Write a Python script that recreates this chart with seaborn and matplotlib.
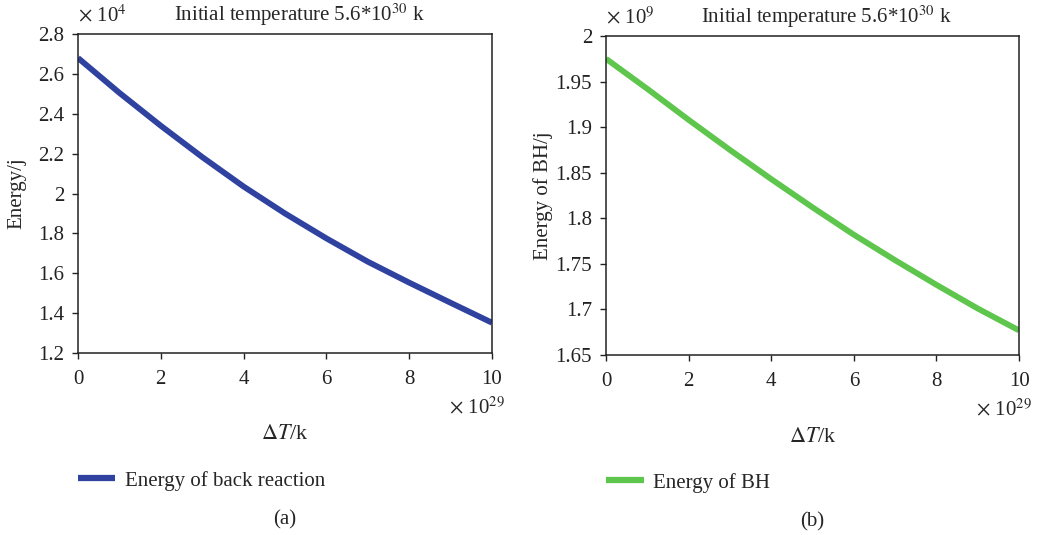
import pandas as pd
import matplotlib
matplotlib.use("Agg")
import matplotlib.pyplot as plt
import seaborn as sns

# --- data (x in units of 1e29 k) ---
delta_t = [0, 1, 2, 3, 4, 5, 6, 7, 8, 9, 10]
back_reaction = [2.68, 2.505, 2.34, 2.183, 2.035, 1.90, 1.775, 1.658, 1.553, 1.452, 1.352]  # x 1e4 j
bh_energy = [1.975, 1.942, 1.908, 1.875, 1.843, 1.812, 1.782, 1.754, 1.727, 1.701, 1.677]  # x 1e9 j

x_ticks = [0, 2, 4, 6, 8, 10]
y_ticks_a = [1.2, 1.4, 1.6, 1.8, 2.0, 2.2, 2.4, 2.6, 2.8]
y_labels_a = ["1.2", "1.4", "1.6", "1.8", "2", "2.2", "2.4", "2.6", "2.8"]
y_ticks_b = [1.65, 1.7, 1.75, 1.8, 1.85, 1.9, 1.95, 2.0]
y_labels_b = ["1.65", "1.7", "1.75", "1.8", "1.85", "1.9", "1.95", "2"]

df = pd.DataFrame({"dT": delta_t, "back": back_reaction, "bh": bh_energy})

sns.set_style("ticks")
plt.rcParams["font.family"] = ["Liberation Serif", "DejaVu Serif"]
plt.rcParams["mathtext.fontset"] = "stix"
plt.rcParams["font.size"] = 15

fig = plt.figure(figsize=(10.37, 5.35), dpi=100)
ax_a = fig.add_axes([0.0752, 0.3402, 0.3992, 0.5962])
ax_b = fig.add_axes([0.5844, 0.3364, 0.3983, 0.5963])

panels = [
    (ax_a, "back", "#2f42a0", "Energy of back reaction", "Energy/j", "4",
     (1.2, 2.8), y_ticks_a, y_labels_a, "(a)", -0.147),
    (ax_b, "bh", "#5ec64c", "Energy of BH", "Energy of BH/j", "9",
     (1.65, 2.0), y_ticks_b, y_labels_b, "(b)", -0.153),
]

for ax, col, color, label, ylab, exp, ylim, yt, ytl, tag, ylx in panels:
    sns.lineplot(data=df, x="dT", y=col, ax=ax, color=color, lw=4.2, label=label)
    ax.lines[0].set_solid_capstyle("butt")
    ax.set_xlim(0, 10)
    ax.set_ylim(*ylim)
    ax.set_xticks(x_ticks)
    ax.set_yticks(yt)
    ax.set_yticklabels(ytl)
    ax.tick_params(direction="out", length=4, width=1, labelsize=15, colors="#222222", pad=6)
    ax.tick_params(axis="x", pad=8)
    for s in ax.spines.values():
        s.set_color("#222222")
        s.set_linewidth(1.1)
    ax.set_xlabel(r"$\mathit{\Delta T}$/k", fontsize=16, va="center")
    ax.xaxis.set_label_coords(0.5, -0.257)
    ax.set_ylabel(ylab, fontsize=15, va="center")
    ax.yaxis.set_label_coords(ylx, 0.5)
    ax.text(0.534, 1.04, r"Initial temperature 5.6*10$^{30}$ k", transform=ax.transAxes,
            ha="center", va="baseline", fontsize=15)
    ax.text(0.0, 1.04, r"$\times$ 10$^{%s}$" % exp, transform=ax.transAxes,
            ha="left", va="baseline", fontsize=15)
    ax.text(1.031, -0.172, r"$\times$ 10$^{29}$", transform=ax.transAxes,
            ha="right", va="center", fontsize=15)
    leg = ax.legend(loc="center left", bbox_to_anchor=(0.0, -0.40), frameon=False,
                    handlelength=1.8, handletextpad=0.45, borderpad=0, borderaxespad=0,
                    fontsize=15)
    for h in leg.get_lines():
        h.set_linewidth(4.5)
        h.set_solid_capstyle("butt")
    ax.text(0.5, -0.523, tag, transform=ax.transAxes, ha="center", va="center", fontsize=15)

fig.savefig("out.png", dpi=100)
plt.close(fig)
